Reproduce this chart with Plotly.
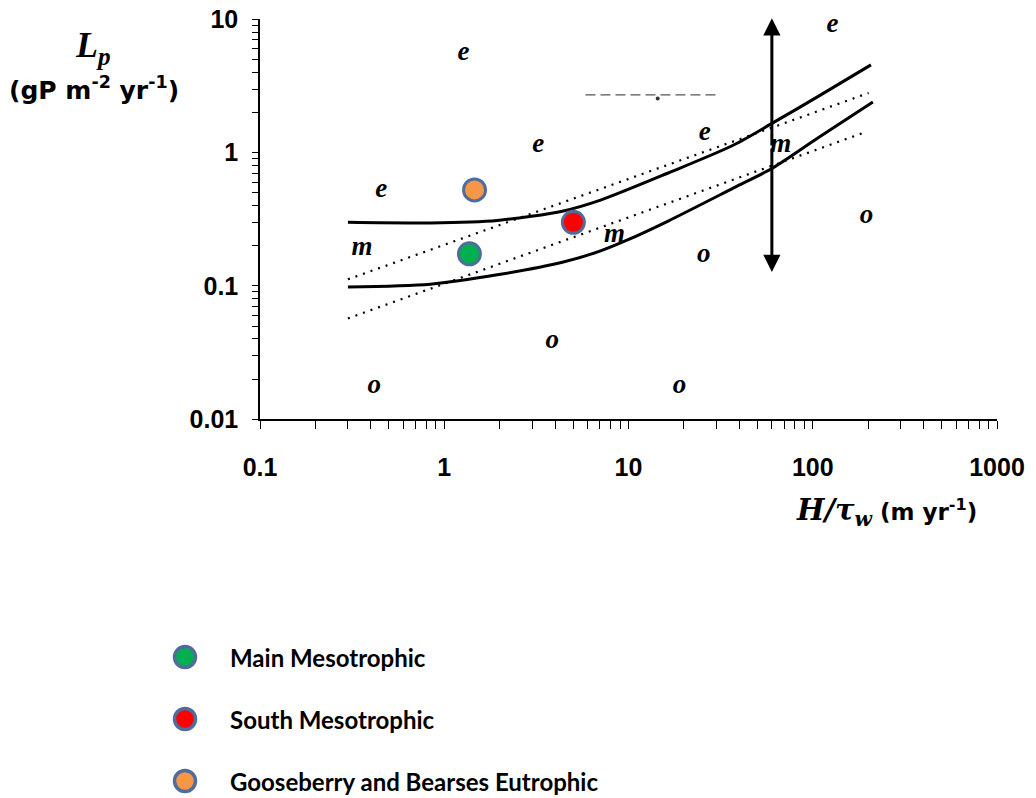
import math
import plotly.graph_objects as go

# ---------------- data ----------------
upper_x = [0.3, 0.84, 1.94, 4.43, 7.05, 16.3, 37.2, 60.7, 106, 207]
upper_y = [0.30, 0.297, 0.31, 0.365, 0.44, 0.70, 1.14, 1.67, 2.62, 4.55]
lower_x = [0.3, 0.84, 1.94, 4.43, 7.05, 9.88, 16.3, 37.2, 60.7, 106, 212]
lower_y = [0.098, 0.103, 0.121, 0.151, 0.183, 0.221, 0.305, 0.543, 0.767, 1.28, 2.40]
dot_upper_x = [0.3, 201]
dot_upper_y = [0.112, 2.8]
dot_lower_x = [0.3, 189]
dot_lower_y = [0.057, 1.41]
dash_x = [5.84, 29.7]
dash_y = [2.71, 2.71]
dash_dot_x = [14.4]
dash_dot_y = [2.55]

arrow_x = 60
arrow_y_top = 10.2
arrow_y_bottom = 0.127
arrow_y_mid = 1.1

series_names = ["Main Mesotrophic", "South Mesotrophic", "Gooseberry and Bearses Eutrophic"]
series_x = [[1.37], [5.02], [1.46]]
series_y = [[0.174], [0.30], [0.525]]
series_colors = ["#00b050", "#ff0000", "#f79646"]

letters = ["e", "e", "e", "e", "e", "m", "m", "m", "o", "o", "o", "o", "o"]
letters_x = [1.27, 128, 3.24, 25.9, 0.455, 0.358, 8.4, 67, 196, 25.6, 3.86, 0.417, 18.9]
letters_y = [5.6, 9.1, 1.14, 1.4, 0.525, 0.193, 0.24, 1.14, 0.335, 0.171, 0.0387, 0.0178, 0.0178]

x_major = [0.1, 1, 10, 100, 1000]
x_major_labels = ["0.1", "1", "10", "100", "1000"]
y_major = [0.01, 0.1, 1, 10]
y_major_labels = ["0.01", "0.1", "1", "10"]

# ---------------- layout helpers ----------------
# target picture is 1036 x 798; the page is laid out slightly taller to compensate
# the vertical squeeze seen in the photographed page
SY = 812 / 798
W, H = 1036, 812
ML, MR, MB = 100, 39, 0
MT = round(19 * SY)


def pxx(px):
    return (px - ML) / (W - ML - MR)


def pxy(py):
    return (H - MB - py * SY) / (H - MT - MB)


def minor_ticks(majors):
    vals = []
    for m in majors[:-1]:
        for k in range(2, 10):
            vals.append(m * k)
    return vals


x_minor = minor_ticks(x_major)
y_minor = minor_ticks(y_major)

BORDER = "#4f6d9c"
SERIF = "Liberation Serif"
SANS = "Liberation Sans"

fig = go.Figure()

# curves
fig.add_trace(go.Scatter(x=upper_x, y=upper_y, mode="lines",
                         line=dict(color="black", width=3, shape="spline", smoothing=0.8),
                         showlegend=False, hoverinfo="skip"))
fig.add_trace(go.Scatter(x=lower_x, y=lower_y, mode="lines",
                         line=dict(color="black", width=3, shape="spline", smoothing=0.8),
                         showlegend=False, hoverinfo="skip"))
fig.add_trace(go.Scatter(x=dot_upper_x, y=dot_upper_y, mode="lines",
                         line=dict(color="black", width=2.2, dash="2px,6px"), showlegend=False, hoverinfo="skip"))
fig.add_trace(go.Scatter(x=dot_lower_x, y=dot_lower_y, mode="lines",
                         line=dict(color="black", width=2.2, dash="2px,6px"), showlegend=False, hoverinfo="skip"))
fig.add_trace(go.Scatter(x=dash_x, y=dash_y, mode="lines",
                         line=dict(color="#555555", width=1.2, dash="10px,5px"), showlegend=False, hoverinfo="skip"))
fig.add_trace(go.Scatter(x=dash_dot_x, y=dash_dot_y, mode="markers",
                         marker=dict(color="#333333", size=4), showlegend=False, hoverinfo="skip"))

# region letters
fig.add_trace(go.Scatter(x=letters_x, y=letters_y, mode="text",
                         text=["<b><i>%s</i></b>" % t for t in letters],
                         textfont=dict(family=SERIF, size=27, color="black"),
                         showlegend=False, hoverinfo="skip", cliponaxis=False))

# data points
for name, xs, ys, col in zip(series_names, series_x, series_y, series_colors):
    fig.add_trace(go.Scatter(x=xs, y=ys, mode="markers", name=name,
                             marker=dict(color=col, size=22, line=dict(color=BORDER, width=3)),
                             showlegend=False))

# manual legend on hidden axes
for name, col in zip(series_names, series_colors):
    fig.add_trace(go.Scatter(x=[0], y=[name], mode="markers", xaxis="x3", yaxis="y3",
                             marker=dict(color=col, size=21, line=dict(color=BORDER, width=3.5)),
                             showlegend=False, hoverinfo="skip", cliponaxis=False))

annotations = []
for name in series_names:
    annotations.append(dict(x=0, y=name, xref="x3", yref="y3", text="<b>%s</b>" % name,
                            showarrow=False, xanchor="left", yanchor="middle", xshift=43,
                            font=dict(family="Lato", size=24, color="black")))

# double-headed vertical arrow
for tip in (arrow_y_top, arrow_y_bottom):
    annotations.append(dict(x=math.log10(arrow_x), y=math.log10(tip), ax=math.log10(arrow_x),
                            ay=math.log10(arrow_y_mid), xref="x", yref="y", axref="x", ayref="y",
                            showarrow=True, arrowhead=2, arrowsize=1.15, arrowwidth=3,
                            arrowcolor="black", standoff=0, text=""))

# axis titles
annotations.append(dict(x=pxx(93), y=pxy(47), xref="paper", yref="paper", showarrow=False,
                        xanchor="center", yanchor="middle",
                        text="<b><i>L<sub>p</sub></i></b>",
                        font=dict(family=SERIF, size=36, color="black")))
annotations.append(dict(x=pxx(94), y=pxy(88), xref="paper", yref="paper", showarrow=False,
                        xanchor="center", yanchor="middle",
                        text="<b>(gP m<sup>-2</sup> yr<sup>-1</sup>)</b>",
                        font=dict(family="DejaVu Sans", size=25, color="black")))
annotations.append(dict(x=pxx(979), y=pxy(512), xref="paper", yref="paper", showarrow=False,
                        xanchor="right", yanchor="middle",
                        text="<span style=\"font-family:'DejaVu Serif';font-size:29px\"><b><i>H/τ<sub>w</sub></i></b></span>"
                             "<b> (m yr<sup>-1</sup>)</b>",
                        font=dict(family="DejaVu Sans", size=23, color="black")))

common_axis = dict(type="log", showgrid=False, zeroline=False)

# legend rows at 657 / 719 / 781 px in the target picture
leg_top, leg_bottom = 644.6, 793.4

fig.update_layout(
    width=W, height=H,
    margin=dict(l=ML, r=MR, t=MT, b=MB),
    paper_bgcolor="white", plot_bgcolor="white",
    showlegend=False,
    xaxis=dict(**common_axis, range=[-1, 3], domain=[pxx(260), pxx(997)], anchor="y",
               showline=True, linecolor="black", linewidth=1.5,
               ticks="outside", ticklen=8, tickwidth=1.2, tickcolor="black",
               tickvals=x_major, ticktext=x_major_labels, ticklabelstandoff=17,
               minor=dict(tickvals=x_minor, ticks="outside", ticklen=8, tickwidth=1.2, tickcolor="black"),
               tickfont=dict(family=SANS, size=25, color="black", weight="bold")),
    xaxis2=dict(**common_axis, range=[-1, 3], overlaying="x", anchor="y", side="bottom",
                ticks="inside", ticklen=7, tickwidth=1.2, tickcolor="black",
                tickvals=x_major, showticklabels=False, showline=False,
                minor=dict(tickvals=x_minor, ticks="inside", ticklen=7, tickwidth=1.2, tickcolor="black")),
    yaxis=dict(**common_axis, range=[-2, 1], domain=[pxy(419), pxy(19)], anchor="x",
               showline=True, linecolor="black", linewidth=1.5,
               ticks="outside", ticklen=6, tickwidth=1.2, tickcolor="black",
               tickvals=y_major, ticktext=y_major_labels, ticklabelstandoff=9,
               minor=dict(tickvals=y_minor, ticks="outside", ticklen=6, tickwidth=1.2, tickcolor="black"),
               tickfont=dict(family=SANS, size=25, color="black", weight="bold")),
    yaxis2=dict(**common_axis, range=[-2, 1], overlaying="y", anchor="x", side="left",
                ticks="inside", ticklen=6, tickwidth=1.2, tickcolor="black",
                tickvals=y_major, showticklabels=False, showline=False,
                minor=dict(tickvals=y_minor, ticks="inside", ticklen=6, tickwidth=1.2, tickcolor="black")),
    xaxis3=dict(range=[-1, 1], domain=[pxx(150), pxx(220)], anchor="y3", visible=False),
    yaxis3=dict(type="category", categoryorder="array", categoryarray=series_names[::-1],
                range=[-0.2, 2.2], domain=[pxy(leg_bottom), pxy(leg_top)], anchor="x3", visible=False),
    annotations=annotations,
)

fig.write_html("out.html", config={"displayModeBar": False},
               post_script="document.body.style.margin='0px';document.body.style.overflow='hidden';")
